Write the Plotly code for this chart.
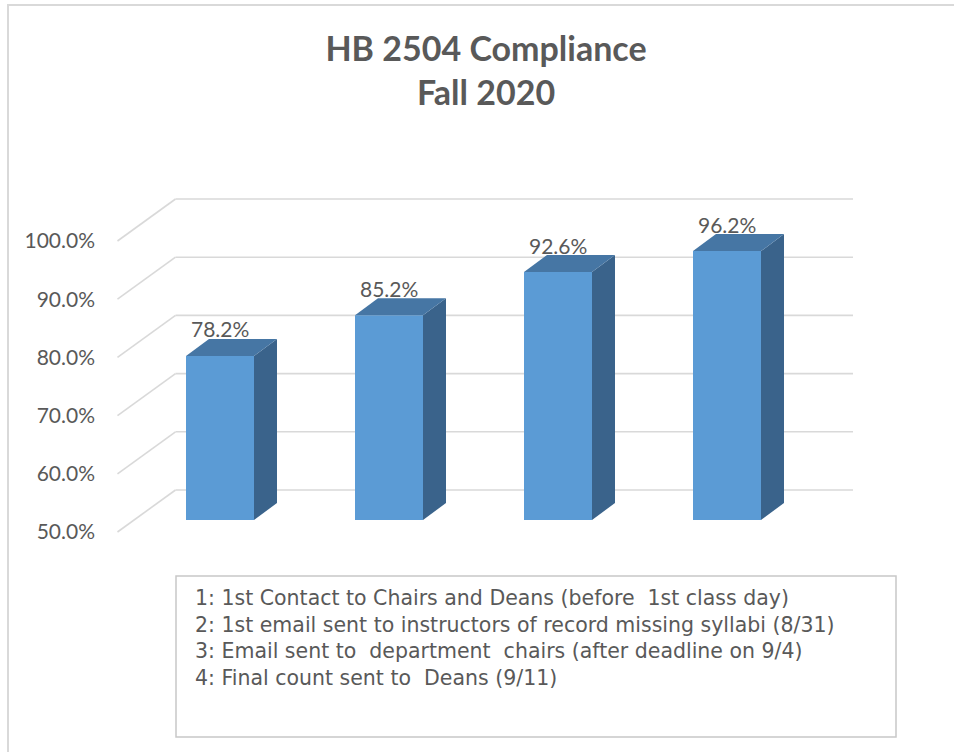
import plotly.graph_objects as go

# ---------------- data ----------------
categories = ["1", "2", "3", "4"]
values = [78.2, 85.2, 92.6, 96.2]
value_labels = ["78.2%", "85.2%", "92.6%", "96.2%"]
tick_values = [50, 60, 70, 80, 90, 100]
tick_labels = ["50.0%", "60.0%", "70.0%", "80.0%", "90.0%", "100.0%"]
title_lines = ["HB 2504 Compliance", "Fall 2020"]
legend_lines = [
    "1: 1st Contact to Chairs and Deans (before  1st class day)",
    "2: 1st email sent to instructors of record missing syllabi (8/31)",
    "3: Email sent to  department  chairs (after deadline on 9/4)",
    "4: Final count sent to  Deans (9/11)",
]

# ---------------- styling / geometry ----------------
W, H = 954, 752
L, R, T, B = 100, 74, 150, 207
PX_X = 169.0          # pixels per category step
PX_Y = 5.82           # pixels per percentage point
X0 = 1 + (L - 220) / PX_X
X1 = 1 + (W - R - 220) / PX_X
Y0 = 50 - (H - B - 520) / PX_Y
Y1 = 50 + (520 - T) / PX_Y

BAR_W = 68 / PX_X
DEPTH_X = 23 / PX_X
DEPTH_Y = 17 / PX_Y
FRONT_DX, FRONT_DY = -16.5 / PX_X, -12 / PX_Y
BACK_DX, BACK_DY = 41.5 / PX_X, 30 / PX_Y
FLOOR_LEFT = 1 + (134 - 220) / PX_X
BACK_RIGHT = 1 + (853 - 220) / PX_X
BASE = 50

FRONT_C = "#5b9bd5"
TOP_C = "#4676a4"
SIDE_C = "#3a638b"
GRID_C = "#d9d9d9"
TEXT_C = "#595959"
FONT = "Lato, 'Open Sans', sans-serif"
BOX_FONT = "'DejaVu Sans', 'Open Sans', sans-serif"

xs = list(range(1, len(categories) + 1))

fig = go.Figure()

# front faces
fig.add_trace(go.Bar(
    x=xs, y=[v - BASE for v in values], base=BASE, width=BAR_W,
    marker=dict(color=FRONT_C, line=dict(width=0)),
    customdata=categories, hovertemplate="%{customdata}: %{y:.1f}%<extra></extra>",
    showlegend=False,
))

# side and top faces (derived from values)
for x, v in zip(xs, values):
    xl, xr = x - BAR_W / 2, x + BAR_W / 2
    fig.add_trace(go.Scatter(
        x=[xr, xr + DEPTH_X, xr + DEPTH_X, xr, xr],
        y=[BASE, BASE + DEPTH_Y, v + DEPTH_Y, v, BASE],
        fill="toself", fillcolor=SIDE_C, mode="lines", line=dict(width=0),
        hoverinfo="skip", showlegend=False,
    ))
    fig.add_trace(go.Scatter(
        x=[xl, xl + DEPTH_X, xr + DEPTH_X, xr, xl],
        y=[v, v + DEPTH_Y, v + DEPTH_Y, v, v],
        fill="toself", fillcolor=TOP_C, mode="lines", line=dict(width=0),
        hoverinfo="skip", showlegend=False,
    ))

# invisible trace for the tick-label axis
fig.add_trace(go.Scatter(x=xs, y=values, yaxis="y2", mode="markers",
                         marker=dict(opacity=0), hoverinfo="skip", showlegend=False))

# gridlines: floor diagonals + back wall
shapes = []
for v in tick_values:
    shapes.append(dict(type="line", xref="x", yref="y", layer="below",
                       x0=FLOOR_LEFT + FRONT_DX, y0=v + FRONT_DY,
                       x1=FLOOR_LEFT + BACK_DX, y1=v + BACK_DY,
                       line=dict(color=GRID_C, width=1.6)))
    shapes.append(dict(type="line", xref="x", yref="y", layer="below",
                       x0=FLOOR_LEFT + BACK_DX, y0=v + BACK_DY,
                       x1=BACK_RIGHT, y1=v + BACK_DY,
                       line=dict(color=GRID_C, width=1.6)))

def px2paper_x(p):
    return (p - L) / (W - L - R)

def px2paper_y(p):
    return (H - B - p) / (H - B - T)

# outer chart border
shapes.append(dict(type="rect", xref="paper", yref="paper", layer="below",
                   x0=px2paper_x(8), x1=px2paper_x(W + 10),
                   y0=px2paper_y(H + 10), y1=px2paper_y(5),
                   line=dict(color="#d9d9d9", width=2)))
# legend text box
shapes.append(dict(type="rect", xref="paper", yref="paper", layer="above",
                   x0=px2paper_x(176), x1=px2paper_x(896),
                   y0=px2paper_y(737), y1=px2paper_y(576),
                   line=dict(color="#c8c8c8", width=1.5)))

annotations = []
for x, v, lab in zip(xs, values, value_labels):
    annotations.append(dict(x=x, y=v + DEPTH_Y, xref="x", yref="y", text=lab,
                            showarrow=False, yanchor="middle", yshift=10,
                            font=dict(family=FONT, size=21, color=TEXT_C)))
annotations.append(dict(x=px2paper_x(193), y=px2paper_y(638),
                        xref="paper", yref="paper",
                        xanchor="left", yanchor="middle", align="left", showarrow=False,
                        text="<br>".join(legend_lines),
                        font=dict(family=BOX_FONT, size=20.5, color=TEXT_C)))

fig.update_layout(
    width=W, height=H,
    margin=dict(l=L, r=R, t=T, b=B, pad=0),
    paper_bgcolor="white", plot_bgcolor="white",
    title=dict(text="<b>" + "<br>".join(title_lines) + "</b>",
               x=486 / W, xanchor="center", xref="container",
               y=1 - 61 / H, yanchor="middle", yref="container",
               font=dict(family=FONT, size=34, color=TEXT_C)),
    xaxis=dict(range=[X0, X1], visible=False, fixedrange=True),
    yaxis=dict(range=[Y0, Y1], showgrid=False, zeroline=False,
               showticklabels=False, showline=False, fixedrange=True),
    yaxis2=dict(range=[Y0 - FRONT_DY, Y1 - FRONT_DY], overlaying="y", side="left",
                tickvals=tick_values, ticktext=tick_labels, showgrid=False,
                zeroline=False, showline=False, ticks="", ticklabelstandoff=4,
                tickfont=dict(family=FONT, size=21, color=TEXT_C), fixedrange=True),
    shapes=shapes, annotations=annotations,
    showlegend=False,
)

fig.write_html("out.html", config={"displayModeBar": False},
               post_script="document.body.style.margin='0px';")
